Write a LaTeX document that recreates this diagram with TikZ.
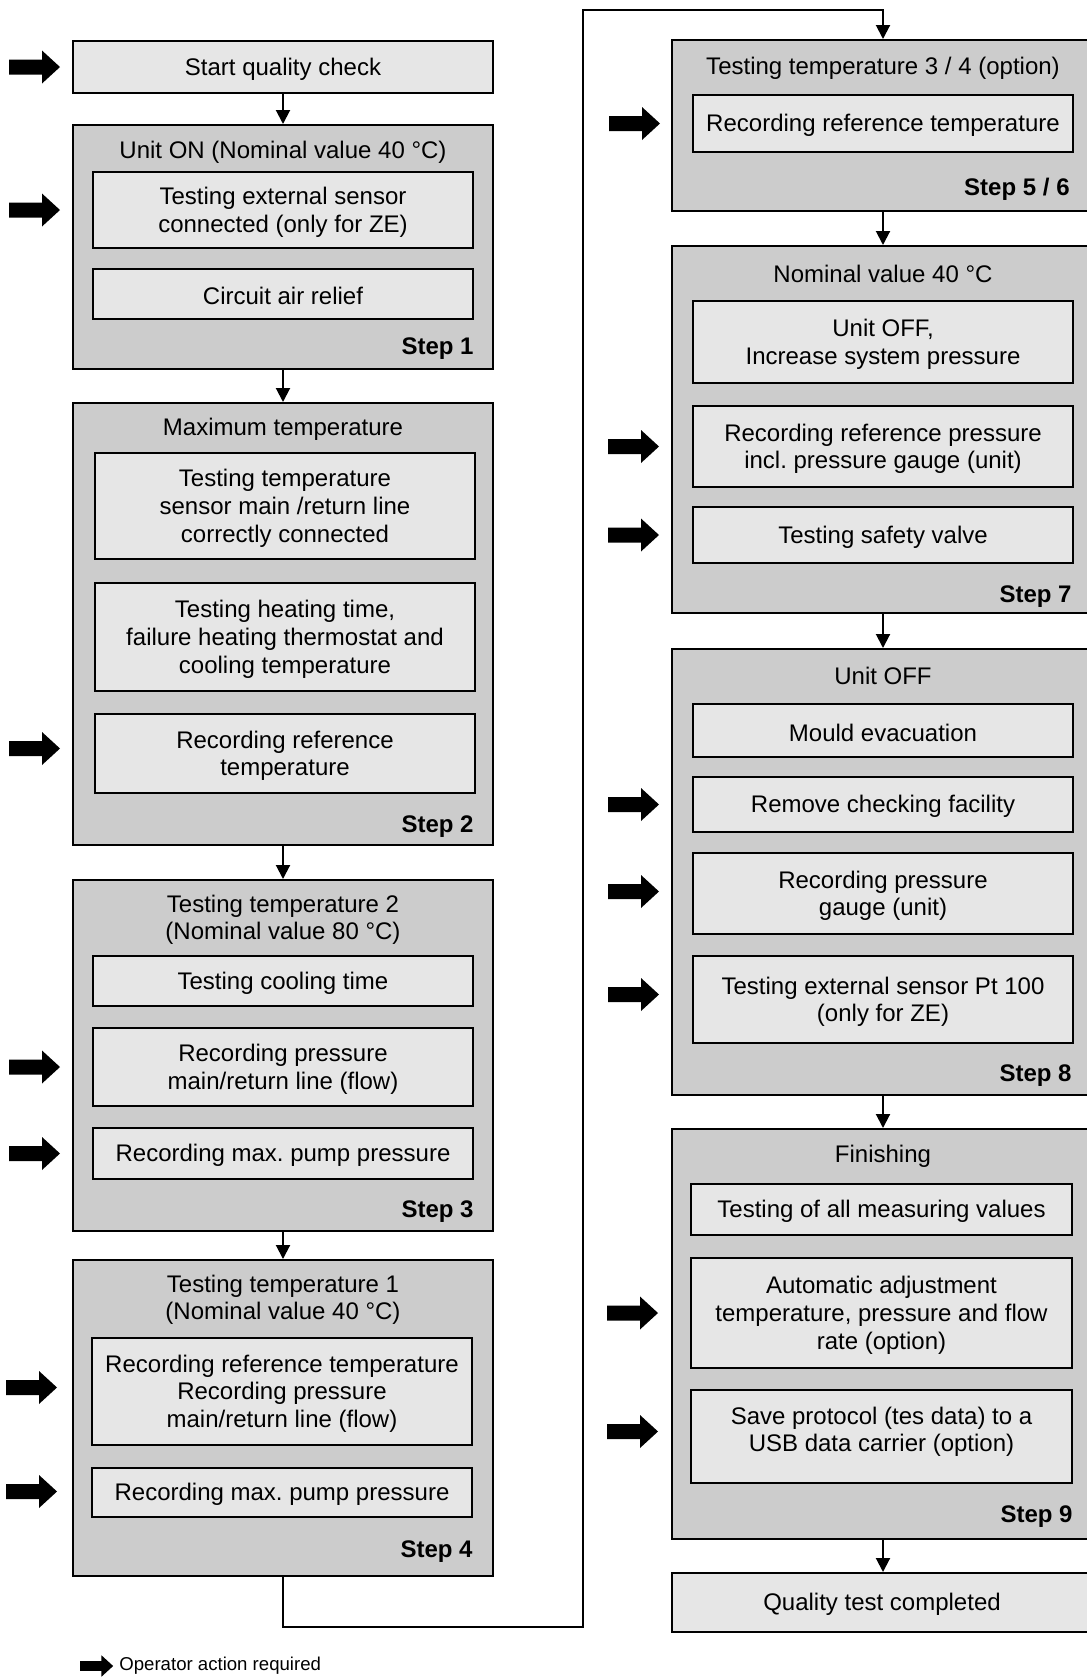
\documentclass[tikz,border=0pt]{standalone}
\usepackage{fontspec}
\setmainfont{Liberation Sans}
\frenchspacing
\usetikzlibrary{fit,calc,arrows.meta}
\definecolor{outerfill}{HTML}{CCCCCC}
\definecolor{innerfill}{HTML}{E6E6E6}
\begin{document}
\begin{tikzpicture}[x=0.5pt,y=-0.5pt,
  every node/.style={font=\fontsize{12}{13.8}\selectfont},
  outerbox/.style={draw=black,fill=outerfill,line width=1pt,inner sep=0pt,rectangle},
  innerbox/.style={draw=black,fill=innerfill,line width=1pt,inner sep=0pt},
  boxtext/.style={align=center,inner sep=0pt,yshift=-1.1pt},
  titletext/.style={align=center,inner sep=0pt,yshift=-1.2pt},
  steplabel/.style={anchor=east,inner sep=0pt,yshift=-1.2pt,font=\fontsize{12}{13.8}\selectfont\bfseries},
  conn/.style={line width=1pt,-{Triangle[length=7pt,width=7pt]}},
  oparrow/.pic={\fill[black] (0,-7.5) -- (33,-7.5) -- (33,-16.5) -- (51,0) -- (33,16.5) -- (33,7.5) -- (0,7.5) -- cycle;}
]
\useasboundingbox (0,0) rectangle (1087,1677);

% ---------- left column ----------
\node[innerbox,fit={(73,41)(493,93)}] (start) {};
\node[boxtext] (startt) at (start.center) {Start quality check};

\node[outerbox,fit={(73,125)(493,369)}] (s1) {};
\node[titletext,yshift=-13pt] (s1t) at (s1.north) {Unit ON (Nominal value 40 °C)};
\node[innerbox,fit={(93,172)(473,248)}] (s1a) {};
\node[boxtext] (s1at) at (s1a.center) {Testing external sensor\\connected (only for ZE)};
\node[innerbox,fit={(93,269)(473,319)}] (s1b) {};
\node[boxtext] (s1bt) at (s1b.center) {Circuit air relief};
\node[steplabel,yshift=12pt] (s1l) at (s1b.east |- s1.south) {Step 1};

\node[outerbox,fit={(73,403)(493,845)}] (s2) {};
\node[titletext,yshift=-12.5pt] (s2t) at (s2.north) {Maximum temperature};
\node[innerbox,fit={(95,453)(475,559)}] (s2a) {};
\node[boxtext] (s2at) at (s2a.center) {Testing temperature\\sensor main /return line\\correctly connected};
\node[innerbox,fit={(95,583)(475,691)}] (s2b) {};
\node[boxtext] (s2bt) at (s2b.center) {Testing heating time,\\failure heating thermostat and\\cooling temperature};
\node[innerbox,fit={(95,714)(475,793)}] (s2c) {};
\node[boxtext] (s2ct) at (s2c.center) {Recording reference\\temperature};
\node[steplabel,yshift=11pt] (s2l) at (s1b.east |- s2.south) {Step 2};

\node[outerbox,fit={(73,880)(493,1231)}] (s3) {};
\node[titletext,yshift=-19.25pt] (s3t) at (s3.north) {Testing temperature 2\\(Nominal value 80 °C)};
\node[innerbox,fit={(93,956)(473,1006)}] (s3a) {};
\node[boxtext] (s3at) at (s3a.center) {Testing cooling time};
\node[innerbox,fit={(93,1028)(473,1106)}] (s3b) {};
\node[boxtext] (s3bt) at (s3b.center) {Recording pressure\\main/return line (flow)};
\node[innerbox,fit={(93,1128)(473,1179)}] (s3c) {};
\node[boxtext] (s3ct) at (s3c.center) {Recording max. pump pressure};
\node[steplabel,yshift=11.5pt] (s3l) at (s3c.east |- s3.south) {Step 3};

\node[outerbox,fit={(73,1260)(493,1576)}] (s4) {};
\node[titletext,yshift=-19.25pt] (s4t) at (s4.north) {Testing temperature 1\\(Nominal value 40 °C)};
\node[innerbox,fit={(92,1338)(472,1445)}] (s4a) {};
\node[boxtext] (s4at) at (s4a.center) {Recording reference temperature\\Recording pressure\\main/return line (flow)};
\node[innerbox,fit={(92,1468)(472,1517)}] (s4b) {};
\node[boxtext] (s4bt) at (s4b.center) {Recording max. pump pressure};
\node[steplabel,yshift=14pt] (s4l) at (s4b.east |- s4.south) {Step 4};

% ---------- right column ----------
\node[outerbox,fit={(672,40)(1094,211)}] (s56) {};
\node[titletext,yshift=-13.5pt] (s56t) at (s56.north) {Testing temperature 3 / 4 (option)};
\node[innerbox,fit={(693,95)(1073,152)}] (s56a) {};
\node[boxtext] (s56at) at (s56a.center) {Recording reference temperature};
\node[steplabel,yshift=12.5pt,xshift=-2pt] (s56l) at (s56a.east |- s56.south) {Step 5 / 6};

\node[outerbox,fit={(672,246)(1094,613)}] (s7) {};
\node[titletext,yshift=-13.5pt] (s7t) at (s7.north) {Nominal value 40 °C};
\node[innerbox,fit={(693,301)(1073,383)}] (s7a) {};
\node[boxtext] (s7at) at (s7a.center) {Unit OFF,\\Increase system pressure};
\node[innerbox,fit={(693,406)(1073,487)}] (s7b) {};
\node[boxtext] (s7bt) at (s7b.center) {Recording reference pressure\\incl. pressure gauge (unit)};
\node[innerbox,fit={(693,507)(1073,563)}] (s7c) {};
\node[boxtext] (s7ct) at (s7c.center) {Testing safety valve};
\node[steplabel,yshift=10pt,xshift=-1pt] (s7l) at (s7c.east |- s7.south) {Step 7};

\node[outerbox,fit={(672,649)(1094,1095)}] (s8) {};
\node[titletext,yshift=-13pt] (s8t) at (s8.north) {Unit OFF};
\node[innerbox,fit={(693,704)(1073,757)}] (s8a) {};
\node[boxtext] (s8at) at (s8a.center) {Mould evacuation};
\node[innerbox,fit={(693,777)(1073,832)}] (s8b) {};
\node[boxtext] (s8bt) at (s8b.center) {Remove checking facility};
\node[innerbox,fit={(693,853)(1073,934)}] (s8c) {};
\node[boxtext] (s8ct) at (s8c.center) {Recording pressure\\gauge (unit)};
\node[innerbox,fit={(693,956)(1073,1043)}] (s8d) {};
\node[boxtext] (s8dt) at (s8d.center) {Testing external sensor Pt 100\\(only for ZE)};
\node[steplabel,yshift=11.5pt,xshift=-1pt] (s8l) at (s8d.east |- s8.south) {Step 8};

\node[outerbox,fit={(672,1129)(1094,1539)}] (s9) {};
\node[titletext,yshift=-13pt] (s9t) at (s9.north) {Finishing};
\node[innerbox,fit={(691,1184)(1072,1235)}] (s9a) {};
\node[boxtext] (s9at) at (s9a.center) {Testing of all measuring values};
\node[innerbox,fit={(691,1258)(1072,1368)}] (s9b) {};
\node[boxtext] (s9bt) at (s9b.center) {Automatic adjustment\\temperature, pressure and flow\\rate (option)};
\node[innerbox,fit={(691,1390)(1072,1483)}] (s9c) {};
\node[boxtext,yshift=3.5pt] (s9ct) at (s9c.center) {Save protocol (tes data) to a\\USB data carrier (option)};
\node[steplabel,yshift=13pt] (s9l) at (s9c.east |- s9.south) {Step 9};

\node[innerbox,fit={(672,1573)(1094,1632)}] (done) {};
\node[boxtext,xshift=-0.5pt] (donet) at (done.center) {Quality test completed};

% ---------- connectors ----------
\draw[conn] (start.south) -- (s1.north);
\draw[conn] (s1.south) -- (s2.north);
\draw[conn] (s2.south) -- (s3.north);
\draw[conn] (s3.south) -- (s4.north);
\coordinate (lb) at (583,1627);
\coordinate (lt) at (583,9.5);
\draw[conn] (s4.south) |- (lb) -- (lt) -| (s56.north);
\draw[conn] (s56.south) -- (s7.north);
\draw[conn] (s7.south) -- (s8.north);
\draw[conn] (s8.south) -- (s9.north);
\draw[conn] (s9.south) -- (done.north);

% ---------- operator action arrows ----------
\pic at ($(start.west)+(-63,0)$) {oparrow};
\pic at ($(s1a.west)+(-83,0)$) {oparrow};
\pic at ($(s2c.west)+(-85,-5)$) {oparrow};
\pic at ($(s3b.west)+(-83,0)$) {oparrow};
\pic at ($(s3c.west)+(-83,0)$) {oparrow};
\pic at ($(s4a.west)+(-85,-4)$) {oparrow};
\pic at ($(s4b.west)+(-85,-1)$) {oparrow};
\pic at ($(s56a.west)+(-83,0)$) {oparrow};
\pic at ($(s7b.west)+(-84,0)$) {oparrow};
\pic at ($(s7c.west)+(-84,0)$) {oparrow};
\pic at ($(s8b.west)+(-84,0)$) {oparrow};
\pic at ($(s8c.west)+(-84,-2)$) {oparrow};
\pic at ($(s8d.west)+(-84,-5)$) {oparrow};
\pic at ($(s9b.west)+(-83,0)$) {oparrow};
\pic at ($(s9c.west)+(-83,-5)$) {oparrow};

% ---------- legend ----------
\pic[scale=0.65] at (80,1666) {oparrow};
\node[anchor=west,inner sep=0pt,font=\fontsize{9.3}{11}\selectfont] (legend) at (119,1666) {Operator action required};
\end{tikzpicture}
\end{document}
